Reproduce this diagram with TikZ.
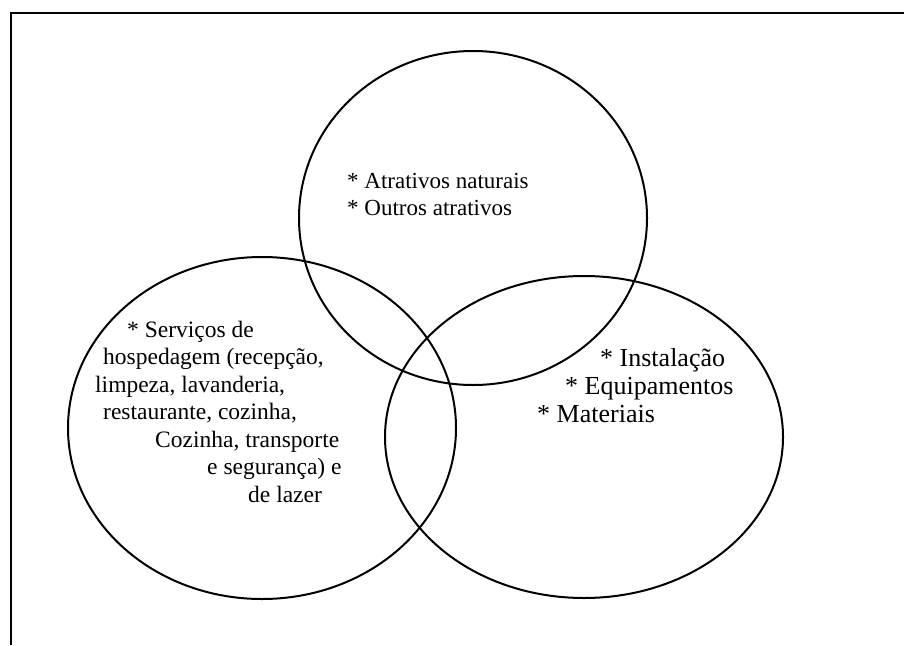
\documentclass[tikz,border=0pt]{standalone}
\usepackage{fontspec}
\setmainfont{Liberation Serif}

\begin{document}
\begin{tikzpicture}[x=1pt, y=-1pt, font=\fontsize{23}{27}\selectfont]
  \tikzstyle{frameline}=[line width=2.8pt]
  \tikzstyle{setline}=[line width=2pt]
  \tikzstyle{txt}=[anchor=base west, inner sep=0pt]
  \tikzstyle{midtxt}=[txt, font=\fontsize{23.5}{27}\selectfont]
  \tikzstyle{bigtxt}=[txt, font=\fontsize{26}{30}\selectfont]

  \useasboundingbox (0,0) rectangle (904,645);

  % frame (only top and left edges)
  \coordinate (fr_top) at (904,13);
  \coordinate (fr_corner) at (11,13);
  \coordinate (fr_bot) at (11,645);
  \draw[frameline] (fr_top) -- (fr_corner) -- (fr_bot);

  % the three sets
  \draw[setline] (473,218) ellipse [x radius=174pt, y radius=167pt];
  \draw[setline] (262,428) ellipse [x radius=194pt, y radius=171pt];
  \draw[setline] (584,437) ellipse [x radius=199pt, y radius=161pt];

  % top set
  \node[txt] (atr_nat) at (347,188) {* Atrativos naturais};
  \node[txt] (atr_out) at (347,215) {* Outros atrativos};

  % left set
  \node[midtxt] (serv_1) at (127,337) {* Serviços de};
  \node[midtxt] (serv_2) at (103,364) {hospedagem (recepção,};
  \node[midtxt] (serv_3) at (95,392) {limpeza, lavanderia,};
  \node[midtxt] (serv_4) at (103,419) {restaurante, cozinha,};
  \node[midtxt] (serv_5) at (155,447) {Cozinha, transporte};
  \node[midtxt] (serv_6) at (207,474) {e segurança) e};
  \node[midtxt] (serv_7) at (248,502) {de lazer};

  % right set
  \node[bigtxt] (inst) at (600,366) {* Instalação};
  \node[bigtxt] (equip) at (565,394) {* Equipamentos};
  \node[bigtxt] (mat) at (537,422) {* Materiais};

\end{tikzpicture}
\end{document}
